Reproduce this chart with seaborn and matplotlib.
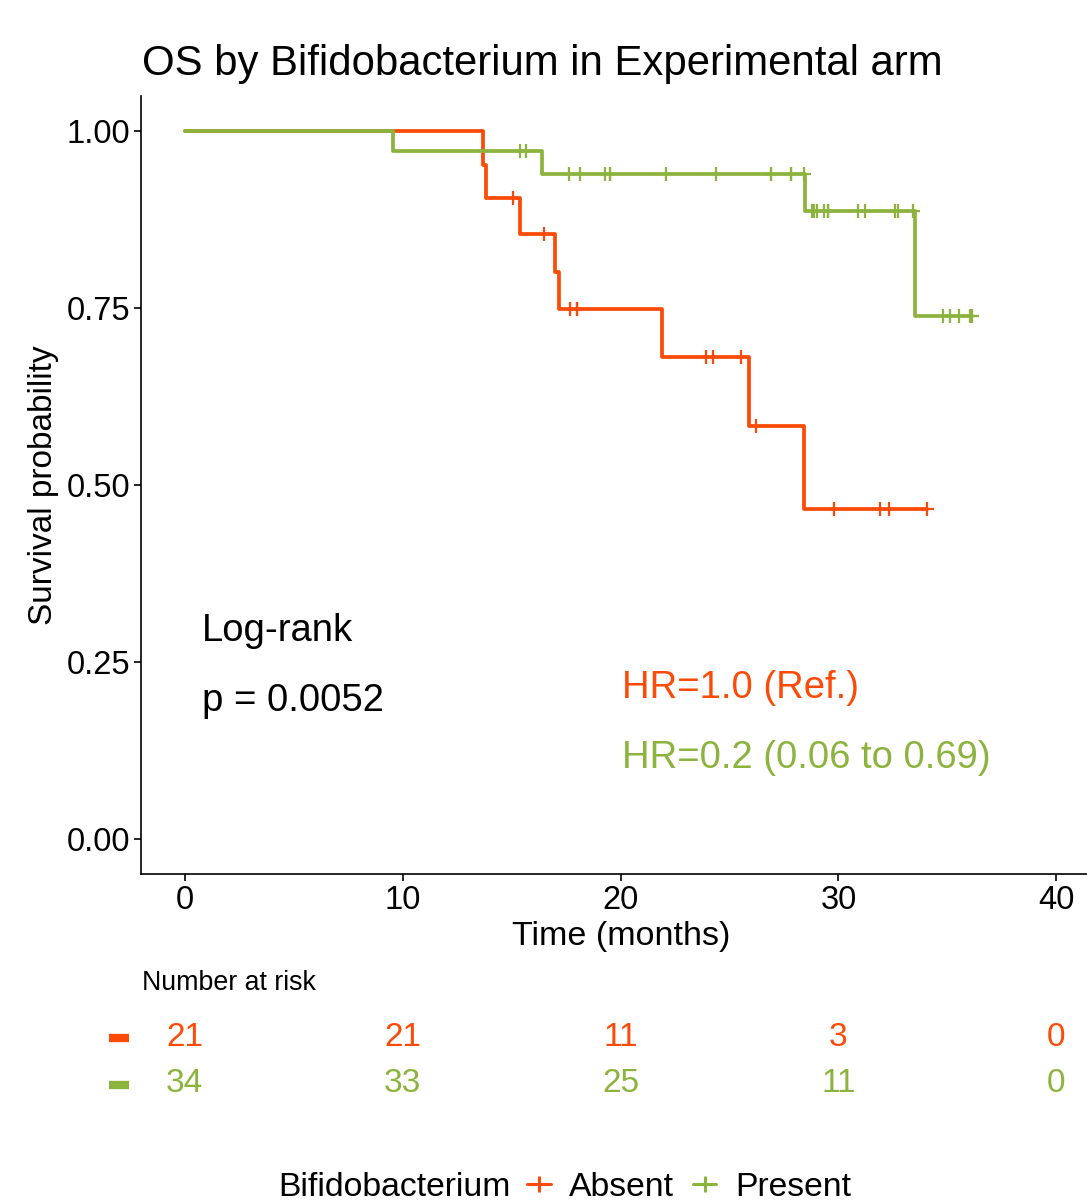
import numpy as np
import pandas as pd
import matplotlib
matplotlib.use("Agg")
import matplotlib.pyplot as plt
from matplotlib.lines import Line2D
import seaborn as sns

# Kaplan-Meier step points (time in months, survival probability)
absent_time = [0, 13.7, 13.85, 15.4, 17.0, 17.2, 21.9, 25.9, 28.4, 34.05]
absent_surv = [1.0, 0.952, 0.905, 0.855, 0.801, 0.748, 0.680, 0.583, 0.466, 0.466]
present_time = [0, 9.55, 16.4, 28.45, 33.5, 36.15]
present_surv = [1.0, 0.971, 0.939, 0.887, 0.739, 0.739]

# Censoring times
absent_censor = [15.05, 16.5, 17.7, 18.0, 18.0, 23.9, 24.25, 25.55, 26.2,
                 29.8, 31.9, 32.3, 34.05]
present_censor = [15.4, 15.65, 17.65, 18.15, 19.3, 19.5, 19.5, 22.1, 24.4,
                  26.9, 26.9, 27.8, 27.8, 28.4, 28.8, 28.9, 29.0, 29.35, 29.5,
                  29.5, 30.9, 31.2, 32.6, 32.75, 33.4, 34.8, 35.1, 35.55,
                  36.05, 36.15]

groups = ["Absent", "Present"]
colors = {"Absent": "#FC4A08", "Present": "#8DB33F"}

# Number at risk table
risk_times = [0, 10, 20, 30, 40]
risk_absent = [21, 21, 11, 3, 0]
risk_present = [34, 33, 25, 11, 0]

title = "OS by Bifidobacterium in Experimental arm"
hr_absent = "HR=1.0 (Ref.)"
hr_present = "HR=0.2 (0.06 to 0.69)"
logrank = "Log-rank"
pval = "p = 0.0052"

sns.set_theme(style="white")
plt.rcParams["font.family"] = ["Liberation Sans", "DejaVu Sans"]
plt.rcParams["text.color"] = "black"
plt.rcParams["axes.labelcolor"] = "black"

W, H = 1087, 1204
fig = plt.figure(figsize=(W / 100, H / 100), dpi=100)


def fx(px):
    return px / W


def fy(py):
    return 1 - py / H


# main survival axes
ax = fig.add_axes([fx(141), fy(874), fx(1100) - fx(141), fy(95.5) - fy(874)])

curves = pd.concat([
    pd.DataFrame({"time": absent_time, "surv": absent_surv, "group": "Absent"}),
    pd.DataFrame({"time": present_time, "surv": present_surv, "group": "Present"}),
])


def surv_at(times, survs, t):
    idx = np.searchsorted(times, t, side="right") - 1
    return np.asarray(survs)[idx]


cens = pd.concat([
    pd.DataFrame({"time": absent_censor,
                  "surv": surv_at(absent_time, absent_surv, absent_censor),
                  "group": "Absent"}),
    pd.DataFrame({"time": present_censor,
                  "surv": surv_at(present_time, present_surv, present_censor),
                  "group": "Present"}),
])

for g in groups:
    sns.lineplot(data=curves[curves.group == g], x="time", y="surv",
                 color=colors[g], drawstyle="steps-post", estimator=None,
                 linewidth=2.7, ax=ax, legend=False)
    sns.scatterplot(data=cens[cens.group == g], x="time", y="surv",
                    color=colors[g], marker="+", s=110, linewidth=1.6,
                    ax=ax, legend=False, zorder=3)

ax.set_xlim(-2, 42)
ax.set_ylim(-0.05, 1.05)
ax.set_xticks([0, 10, 20, 30, 40])
ax.set_yticks([0, 0.25, 0.5, 0.75, 1.0])
ax.set_yticklabels(["0.00", "0.25", "0.50", "0.75", "1.00"])
ax.tick_params(axis="both", labelsize=23.5, colors="black", length=5,
               width=1.2, direction="out", left=True, bottom=True, pad=3)
for side in ["top", "right"]:
    ax.spines[side].set_visible(False)
for side in ["left", "bottom"]:
    ax.spines[side].set_color("black")
    ax.spines[side].set_linewidth(1.2)
ax.set_xlabel("")
ax.set_ylabel("")

fig.text(fx(621), fy(937), "Time (months)", fontsize=24.5, ha="center", va="center")
fig.text(fx(44), fy(485), "Survival probability", fontsize=24, ha="center",
         va="center", rotation=90)
fig.text(fx(142), fy(64), title, fontsize=30.2, ha="left", va="center")

ax.text(0.78, 0.294, logrank, fontsize=27.5, ha="left", va="center")
ax.text(0.78, 0.194, pval, fontsize=27.5, ha="left", va="center")
ax.text(20.05, 0.213, hr_absent, fontsize=27.5, ha="left", va="center",
        color=colors["Absent"])
ax.text(20.05, 0.114, hr_present, fontsize=27.5, ha="left", va="center",
        color=colors["Present"])

# risk table
fig.text(fx(142), fy(983), "Number at risk", fontsize=19.3, ha="left", va="center")
rax = fig.add_axes([fx(141), fy(1110), fx(1100) - fx(141), fy(1010) - fy(1110)])
rax.set_xlim(-2, 42)
rax.set_ylim(0, 1)
rax.axis("off")
row_y = {"Absent": (1110 - 1037) / 100, "Present": (1110 - 1084) / 100}
for g, vals in zip(groups, [risk_absent, risk_present]):
    for t, v in zip(risk_times, vals):
        rax.text(t, row_y[g], str(v), fontsize=24, ha="center", va="center",
                 color=colors[g], clip_on=False)
    rax.plot([-3.45, -2.55], [row_y[g] - 0.01, row_y[g] - 0.01], color=colors[g],
             linewidth=6, solid_capstyle="butt", clip_on=False)

# legend
fig.text(fx(278), fy(1187), "Bifidobacterium", fontsize=24.3, ha="left", va="center")
handles = [Line2D([0], [0], color=colors[g], linewidth=2.2, marker="+",
                  markersize=11, markeredgewidth=2.2) for g in groups]
fig.legend(handles, groups, ncol=2, frameon=False, fontsize=24.3,
           loc="center left", bbox_to_anchor=(fx(527), fy(1187)),
           handlelength=0.7, handletextpad=0.55, columnspacing=0.55,
           borderaxespad=0, borderpad=0)

fig.savefig("out.png", dpi=100, facecolor="white")
